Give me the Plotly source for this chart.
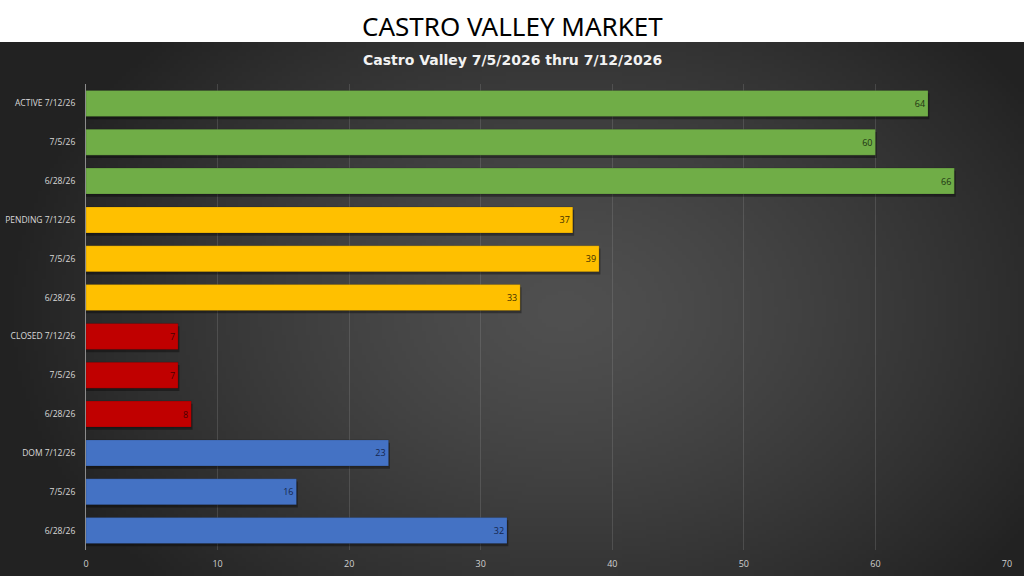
import base64
import struct
import zlib

import numpy as np
import plotly.graph_objects as go

# data
labels = ['ACTIVE 7/12/26', '7/5/26', '6/28/26',
          'PENDING 7/12/26', '7/5/26', '6/28/26',
          'CLOSED 7/12/26', '7/5/26', '6/28/26',
          'DOM 7/12/26', '7/5/26', '6/28/26']
values = [64, 60, 66, 37, 39, 33, 7, 7, 8, 23, 16, 32]
groups = ['ACTIVE'] * 3 + ['PENDING'] * 3 + ['CLOSED'] * 3 + ['DOM'] * 3
x_ticks = [0, 10, 20, 30, 40, 50, 60, 70]

colors = {'ACTIVE': '#70ad47', 'PENDING': '#ffc000', 'CLOSED': '#c00000', 'DOM': '#4472c4'}
text_colors = {'ACTIVE': '#1e3312', 'PENDING': '#3d2e00', 'CLOSED': '#4a0000', 'DOM': '#14264d'}

W, H = 1024, 576


def make_png(arr):
    # arr: h x w x 3 uint8
    h, w, _ = arr.shape
    raw = b''.join(b'\x00' + arr[r].tobytes() for r in range(h))

    def chunk(tag, data):
        c = struct.pack('>I', len(data)) + tag + data
        return c + struct.pack('>I', zlib.crc32(tag + data) & 0xffffffff)

    png = b'\x89PNG\r\n\x1a\n'
    png += chunk(b'IHDR', struct.pack('>IIBBBBB', w, h, 8, 2, 0, 0, 0))
    png += chunk(b'IDAT', zlib.compress(raw, 9))
    png += chunk(b'IEND', b'')
    return 'data:image/png;base64,' + base64.b64encode(png).decode()


# radial grey background like the slide
gw, gh = 256, 134
yy, xx = np.mgrid[0:gh, 0:gw]
d = np.sqrt(((xx - gw * 0.55) / (gw * 0.55)) ** 2 + ((yy - gh * 0.5) / (gh * 0.75)) ** 2)
d = np.clip(d, 0, 1)
shade = (80 - 46 * d ** 1.3).astype(np.uint8)
bg = np.dstack([shade, shade, shade])
bg_src = make_png(bg)

ypos = list(range(len(labels)))
bar_w = 0.67

fig = go.Figure()
# soft shadow under the bars
fig.add_trace(go.Bar(
    y=ypos, x=[v + 0.1 for v in values], orientation='h',
    marker=dict(color='rgba(0,0,0,0.35)', line=dict(width=0)),
    width=bar_w, offset=-bar_w / 2 + 0.07,
    hoverinfo='skip',
))
fig.add_trace(go.Bar(
    y=ypos, x=values, orientation='h',
    marker=dict(color=[colors[g] for g in groups],
                line=dict(color='rgba(0,0,0,0.15)', width=1)),
    width=bar_w, offset=-bar_w / 2,
    text=values, textposition='inside', insidetextanchor='end',
    textfont=dict(size=9, color=[text_colors[g] for g in groups], family='Open Sans'),
    hoverinfo='x+y',
))

fig.add_layout_image(dict(source=bg_src, xref='paper', yref='paper',
                          x=0, y=(H - 42) / H, sizex=1, sizey=(H - 42) / H,
                          xanchor='left', yanchor='top', sizing='stretch', layer='below'))

fig.add_annotation(text='CASTRO VALLEY MARKET', xref='paper', yref='paper',
                   x=0.5, y=1 - 26 / H, xanchor='center', yanchor='middle', showarrow=False,
                   font=dict(size=26, color='black', family='Liberation Sans Narrow, Noto Sans'))
fig.add_annotation(text='<b>Castro Valley 7/5/2026 thru 7/12/2026</b>', xref='paper', yref='paper',
                   x=0.5, y=1 - 60 / H, xanchor='center', yanchor='middle', showarrow=False,
                   font=dict(size=14, color='#f2f2f2', family='DejaVu Sans'))

fig.update_layout(
    width=W, height=H,
    margin=dict(l=0, r=0, t=0, b=0, autoexpand=False),
    paper_bgcolor='white',
    plot_bgcolor='rgba(0,0,0,0)',
    showlegend=False,
    barmode='overlay',
    xaxis=dict(domain=[86 / W, 1007 / W], range=[0, 70], tickvals=x_ticks,
               showgrid=True, gridcolor='rgba(150,150,150,0.25)', gridwidth=1,
               zeroline=False, showline=False, ticks='', ticklabelstandoff=7,
               tickfont=dict(size=9, color='#d0d0d0', family='Open Sans')),
    yaxis=dict(domain=[(H - 550) / H, (H - 84) / H], range=[11.5, -0.5],
               tickvals=ypos, ticktext=labels,
               showgrid=False, zeroline=False, showline=True, linecolor='#8c8c8c',
               ticks='', ticklabelstandoff=8,
               tickfont=dict(size=8.5, color='#d9d9d9', family='Liberation Sans Narrow, Open Sans')),
)

fig.write_html('out.html', config={'displayModeBar': False},
               post_script="document.documentElement.style.margin='0';"
                           "document.documentElement.style.overflow='hidden';"
                           "document.body.style.margin='0';document.body.style.overflow='hidden';")
